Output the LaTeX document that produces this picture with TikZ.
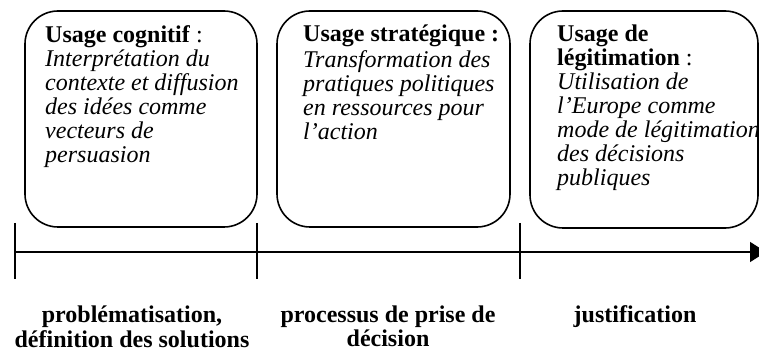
\documentclass[tikz,border=0pt]{standalone}
\usepackage{fontspec}
\setmainfont{Liberation Serif}
\usetikzlibrary{arrows.meta}
\begin{document}
\begin{tikzpicture}[x=1pt,y=-1pt,
  usagebox/.style={draw, line width=1.6pt, rounded corners=33pt, inner sep=0pt},
  boxtext/.style={anchor=north west, inner sep=0pt, align=left, font=\fontsize{24}{24}\selectfont},
  phase/.style={anchor=north, inner sep=0pt, align=center, font=\fontsize{24}{23}\selectfont\bfseries},
  axis/.style={line width=1.5pt, -{Triangle[length=16pt,width=20pt]}},
  tickline/.style={line width=1.5pt}]
\useasboundingbox (0,0) rectangle (759,352);
% boxes
\node[usagebox, minimum width=232pt, minimum height=216pt] (b1) at (141,119) {};
\node[usagebox, minimum width=233pt, minimum height=216pt] (b2) at (393.5,119) {};
\node[usagebox, minimum width=228pt, minimum height=217pt] (b3) at (644,119.5) {};
% box texts
\node[boxtext] (t1) at (45,25) {\strut\textbf{Usage cognitif} :\\
  \textit{Interprétation du}\\
  \textit{contexte et diffusion}\\
  \textit{des idées comme}\\
  \textit{vecteurs de}\\
  \textit{persuasion}};
\node[boxtext] (t2) at (303,25) {\strut\textbf{Usage stratégique :}\\
  \textit{Transformation des}\\
  \textit{pratiques politiques}\\
  \textit{en ressources pour}\\
  \textit{l’action}};
\node[boxtext] (t3) at (557,25) {\strut\textbf{Usage de}\\
  \textbf{légitimation} :\\
  \textit{Utilisation de}\\
  \textit{l’Europe comme}\\
  \textit{mode de légitimation}\\
  \textit{des décisions}\\
  \textit{publiques}};
% timeline
\coordinate (start) at (15,252);
\coordinate (end) at (766,252);
\coordinate (k1a) at (15,223);
\coordinate (k1b) at (15,279);
\coordinate (k2a) at (257,223);
\coordinate (k2b) at (257,279);
\coordinate (k3a) at (520,223);
\coordinate (k3b) at (520,279);
\draw[axis] (start) -- (end);
\draw[tickline] (k1a) -- (k1b);
\draw[tickline] (k2a) -- (k2b);
\draw[tickline] (k3a) -- (k3b);
% phase labels
\node[phase] (p1) at (132,305.5) {\strut problématisation,\\définition des solutions};
\node[phase] (p2) at (388,305.5) {\strut processus de prise de\\décision};
\node[phase] (p3) at (635,305.5) {\strut justification};
\end{tikzpicture}
\end{document}
